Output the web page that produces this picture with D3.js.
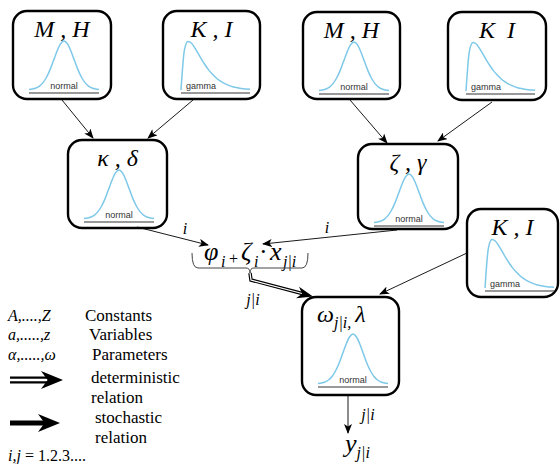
<!DOCTYPE html>
<html><head><meta charset="utf-8">
<script src="https://cdn.jsdelivr.net/npm/d3@7"></script>
<style>
body{margin:0;background:#fff}svg{display:block}
</style>
</head><body>
<svg id="c" width="560" height="464"></svg>
<script>
// ---- data ----
const nodeIds = ["MH1","KI1","MH2","KI2","kd","zg","KI3","wl"];
const nodeTitles = [
  [{t:"M , H"}],
  [{t:"K , I"}],
  [{t:"M , H"}],
  [{t:"K\u2002I"}],
  [{t:"\u03BA , \u03B4"}],
  [{t:"\u03B6 , \u03B3"}],
  [{t:"K , I"}],
  [{t:"\u03C9"},{t:"j|i",sub:true},{t:", ",sub:true},{t:" \u03BB"}]
];
const nodeDists = ["normal","gamma","normal","gamma","normal","normal","gamma","normal"];
const edgeFrom = ["MH1","KI1","MH2","KI2","kd","zg","KI3","wl"];
const edgeTo   = ["kd","kd","zg","zg","f","f","wl","y"];
const edgeLabels = ["","","","","i","i","","j|i"];
// distribution icon shapes (x in 0..1, relative height)
const shapeX = [0,0.05,0.1,0.15,0.2,0.25,0.3,0.35,0.4,0.45,0.5,0.55,0.6,0.65,0.7,0.75,0.8,0.85,0.9,0.95,1];
const normalY = [0.01,0.02,0.04,0.08,0.15,0.26,0.41,0.6,0.79,0.94,1.0,0.94,0.79,0.6,0.41,0.26,0.15,0.08,0.04,0.02,0.01];
const gammaY  = [0.0,0.82,0.99,0.96,0.86,0.74,0.62,0.51,0.41,0.33,0.26,0.2,0.155,0.12,0.09,0.068,0.05,0.037,0.027,0.02,0.015];
const formulaParts = [
  {t:"\u03C6",x:204,sub:false},{t:"i",x:221,sub:true},{t:"+",x:229,sub:true,up:true},
  {t:"\u03B6",x:241,sub:false},{t:"i",x:254,sub:true},{t:"\u00B7",x:259,sub:false,up:true},
  {t:"x",x:270,sub:false},{t:"j|i",x:283,sub:true}
];
const legendSymbols = ["A,....,Z","a,.....,z","\u03B1,.....,\u03C9"];
const legendMeanings = ["Constants","Variables","Parameters"];
const relationNames = ["deterministic","stochastic"];

// ---- layout ----
const layout = {
  MH1:[13,11,98,88], KI1:[163,11,97,88], MH2:[303,12,97,87], KI2:[448,12,98,88],
  kd:[68,140,99,88], zg:[358,144,100,85], KI3:[467,209,91,88], wl:[302,297,97,98]
};
const edgePts = {
  "MH1-kd":[[62,100],[93,138]], "KI1-kd":[[193,100],[148,138]],
  "MH2-zg":[[350,100],[387,143]], "KI2-zg":[[492,102],[438,141]],
  "kd-f":[[137,227],[208,245]], "zg-f":[[397,230],[263,244]],
  "KI3-wl":[[467,253],[380,294]], "wl-y":[[348,395],[348,433]]
};
const labelPos = {"kd-f":[185,234],"zg-f":[327,233],"wl-y":[368,420]};

const F1 = "Liberation Serif";
const FS = "Liberation Sans";

const svg = d3.select("#c");
const defs = svg.append("defs");
defs.append("marker").attr("id","ah").attr("viewBox","0 0 10 8")
  .attr("refX",9).attr("refY",4).attr("markerWidth",10).attr("markerHeight",8)
  .attr("markerUnits","userSpaceOnUse").attr("orient","auto")
  .append("path").attr("d","M0,0 L10,4 L0,8 L2.5,4 Z").attr("fill","#000");

// nodes
nodeIds.forEach((id,i)=>{
  const [L,T,W,H] = layout[id];
  const g = svg.append("g");
  g.append("rect").attr("x",L).attr("y",T).attr("width",W).attr("height",H)
    .attr("rx",14).attr("fill","#fff").attr("stroke","#000").attr("stroke-width",2.4);
  const big = id==="wl";
  const top = T + (big?37:30), base = T + (big?87:79), line = T + (big?90:82);
  const dist = nodeDists[i];
  const x0 = L + (dist==="normal"?16:18), x1 = L + (dist==="normal"?86:87);
  const xs = d3.scaleLinear().domain([0,1]).range([x0,x1]);
  const ys = d3.scaleLinear().domain([0,1]).range([base,top]);
  const vals = dist==="normal"?normalY:gammaY;
  const ln = d3.line().x((d,k)=>xs(shapeX[k])).y(d=>ys(d)).curve(d3.curveMonotoneX);
  g.append("path").attr("d",ln(vals)).attr("fill","none").attr("stroke","#7ec8e8").attr("stroke-width",1.5);
  g.append("line").attr("x1",x0).attr("x2",x1).attr("y1",line).attr("y2",line)
    .attr("stroke","#777").attr("stroke-width",1.6);
  g.append("text").attr("font-family",FS).attr("x",dist==="normal"?(x0+x1)/2:L+23).attr("y",line-4)
    .attr("text-anchor",dist==="normal"?"middle":"start")
    .attr("font-size",9).attr("fill","#333").text(dist);
  const t = g.append("text").attr("font-family",F1)
    .attr("x",big?L+15:L+W/2).attr("y",T+(big?25:26)).attr("text-anchor",big?"start":"middle")
    .attr("font-style","italic").attr("font-size",24);
  let sub=false;
  nodeTitles[i].forEach(p=>{
    const ts = t.append("tspan").text(p.t);
    if(p.sub){ts.attr("font-size",16); if(!sub) ts.attr("dy",6); sub=true;}
    else { if(sub) ts.attr("dy",-6); sub=false; }
  });
});

// edges
edgeFrom.forEach((f,i)=>{
  const key = f+"-"+edgeTo[i];
  const p = edgePts[key];
  svg.append("line").attr("x1",p[0][0]).attr("y1",p[0][1]).attr("x2",p[1][0]).attr("y2",p[1][1])
    .attr("stroke","#000").attr("stroke-width",0.9).attr("marker-end","url(#ah)");
  if(edgeLabels[i]){
    const lp = labelPos[key];
    svg.append("text").attr("font-family",F1).attr("x",lp[0]).attr("y",lp[1]).attr("text-anchor","middle")
      .attr("font-style","italic").attr("font-size",16).text(edgeLabels[i]);
  }
});

// formula
const fbase = 260;
formulaParts.forEach(p=>{
  svg.append("text").attr("font-family",F1).attr("x",p.x)
    .attr("y", p.sub ? (p.up ? fbase+4 : fbase+7) : fbase)
    .attr("font-style", p.up ? "normal" : "italic")
    .attr("font-size", p.sub ? 16 : 26).text(p.t);
});

// brace
svg.append("path").attr("d","M192,253 Q192,268 198,268 L246,268 Q250,268 250,273 Q250,268 254,268 L302,268 Q308,268 308,253")
  .attr("fill","none").attr("stroke","#444").attr("stroke-width",1);
function dblArrow(d, tip, ang, w, hl, hw){
  svg.append("path").attr("d",d).attr("fill","none").attr("stroke","#000").attr("stroke-width",w);
  svg.append("path").attr("d",d).attr("fill","none").attr("stroke","#fff").attr("stroke-width",w*0.35);
  head(tip,ang,hl,hw);
}
function head(tip,ang,hl,hw){
  const p = [[0,0],[-hl,-hw/2],[-hl*0.7,0],[-hl,hw/2]];
  svg.append("path").attr("d","M"+p.map(q=>q.join(",")).join("L")+"Z")
    .attr("transform",`translate(${tip[0]},${tip[1]}) rotate(${ang})`).attr("fill","#000");
}
const ang = Math.atan2(296-280,313-251)*180/Math.PI;
dblArrow("M250,273 L251,280 L304,294", [313,296.5], ang, 3.5, 16, 12);
svg.append("text").attr("font-family",F1).attr("x",253).attr("y",305).attr("text-anchor","middle")
  .attr("font-style","italic").attr("font-size",16).text("j|i");

// y node
const yt = svg.append("text").attr("font-family",F1).attr("x",345).attr("y",452)
  .attr("font-style","italic").attr("font-size",26);
yt.append("tspan").text("y");
yt.append("tspan").attr("font-size",16).attr("dy",6).text("j|i");

// legend
const lg = svg.append("g").attr("font-family",F1).attr("font-size",17).attr("fill","#000");
const rows = [321,340,360];
legendSymbols.forEach((s,i)=>{
  lg.append("text").attr("x",8).attr("y",rows[i]).attr("font-style","italic").attr("font-size",16).text(s);
  lg.append("text").attr("x",[85,89,92][i]).attr("y",rows[i]).text(legendMeanings[i]);
});
dblArrow("M10,380 L50,380",[63,380],0,7,22,18);
lg.append("text").attr("x",91).attr("y",383).text(relationNames[0]);
lg.append("text").attr("x",91).attr("y",403).text("relation");
svg.append("line").attr("x1",10).attr("x2",48).attr("y1",423).attr("y2",423).attr("stroke","#000").attr("stroke-width",5);
head([60,423],0,22,18);
lg.append("text").attr("x",95).attr("y",423).text(relationNames[1]);
lg.append("text").attr("x",95).attr("y",443).text("relation");
lg.append("text").attr("x",8).attr("y",461).attr("font-size",16)
  .html('<tspan font-style="italic">i,j</tspan> = 1.2.3....');
</script>
</body></html>
